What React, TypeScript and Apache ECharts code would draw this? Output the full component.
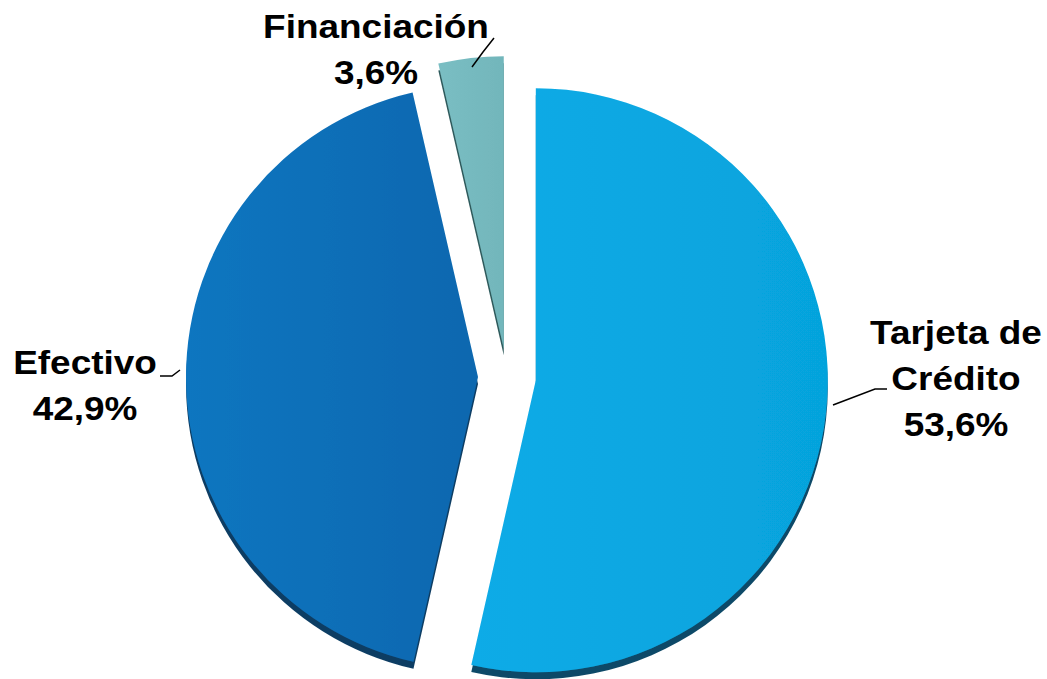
import React, { useEffect, useRef } from "react";
import * as echarts from "echarts";

const categories = ["Tarjeta de Crédito", "Efectivo", "Financiación"];
const values = [53.6, 42.9, 3.6];
const colorsLight = ["#0BABE7", "#1076C0", "#7ABEC3"];
const colorsDark = ["#06A3DC", "#0967AF", "#72B6BB"];
const shadowColors = ["#0B4A68", "#083D64", "#2E5A5C"];

// label anchors: centre x, baseline of first line, label-line points
const labelPos = [
  { x: 956, y: 344, line: [[833, 405], [875, 389], [887, 389]] },
  { x: 85, y: 374, line: [[180, 370], [172, 376], [160, 376]] },
  { x: 376, y: 38, line: [[472, 67], [483, 52], [494, 38]] },
];

const FONT = 33;
const LINE_H = 46;

function labelLines(i: number): string[] {
  const name = categories[i].replace(" de ", " de\n");
  return (name + "\n" + values[i].toFixed(1).replace(".", ",") + "%").split("\n");
}

export default function App() {
  const ref = useRef<HTMLDivElement>(null);
  useEffect(() => {
    if (!ref.current) return;
    const chart = echarts.init(ref.current, undefined, { renderer: "svg" });
    const graphics: any[] = [];
    categories.forEach((_, i) => {
      const lp = labelPos[i];
      labelLines(i).forEach((t, k) => {
        const y = lp.y + k * LINE_H - 0.35 * FONT;
        graphics.push({
          type: "text",
          x: lp.x,
          y,
          scaleX: 1.12,
          z: 100,
          style: {
            text: t,
            fill: "#000",
            font: `bold ${FONT}px "Liberation Sans", Arial, sans-serif`,
            textAlign: "center",
            textVerticalAlign: "middle",
          },
        });
      });
      graphics.push({
        type: "polyline",
        z: 100,
        shape: { points: lp.line },
        style: { stroke: "#000", lineWidth: 1.5, fill: null },
      });
    });
    chart.setOption({
      animation: false,
      backgroundColor: "#ffffff",
      graphic: graphics,
      series: [
        {
          type: "pie",
          center: [507, 377],
          radius: [0, 292],
          startAngle: 90,
          clockwise: true,
          selectedMode: "multiple",
          selectedOffset: 29,
          emphasis: { disabled: true },
          label: { show: false },
          labelLine: { show: false },
          data: categories.map((name, i) => ({
            name,
            value: values[i],
            selected: true,
            itemStyle: {
              color: {
                type: "linear",
                x: 0,
                y: 0,
                x2: 1,
                y2: 0,
                colorStops: [
                  { offset: 0, color: colorsLight[i] },
                  { offset: 1, color: colorsDark[i] },
                ],
              },
              shadowColor: shadowColors[i],
              shadowBlur: 0,
              shadowOffsetX: 0,
              shadowOffsetY: 7,
            },
          })),
        },
      ],
    });
    return () => chart.dispose();
  }, []);
  return (
    <div
      ref={ref}
      style={{ position: "fixed", left: 0, top: 0, width: 1047, height: 679 }}
    />
  );
}
